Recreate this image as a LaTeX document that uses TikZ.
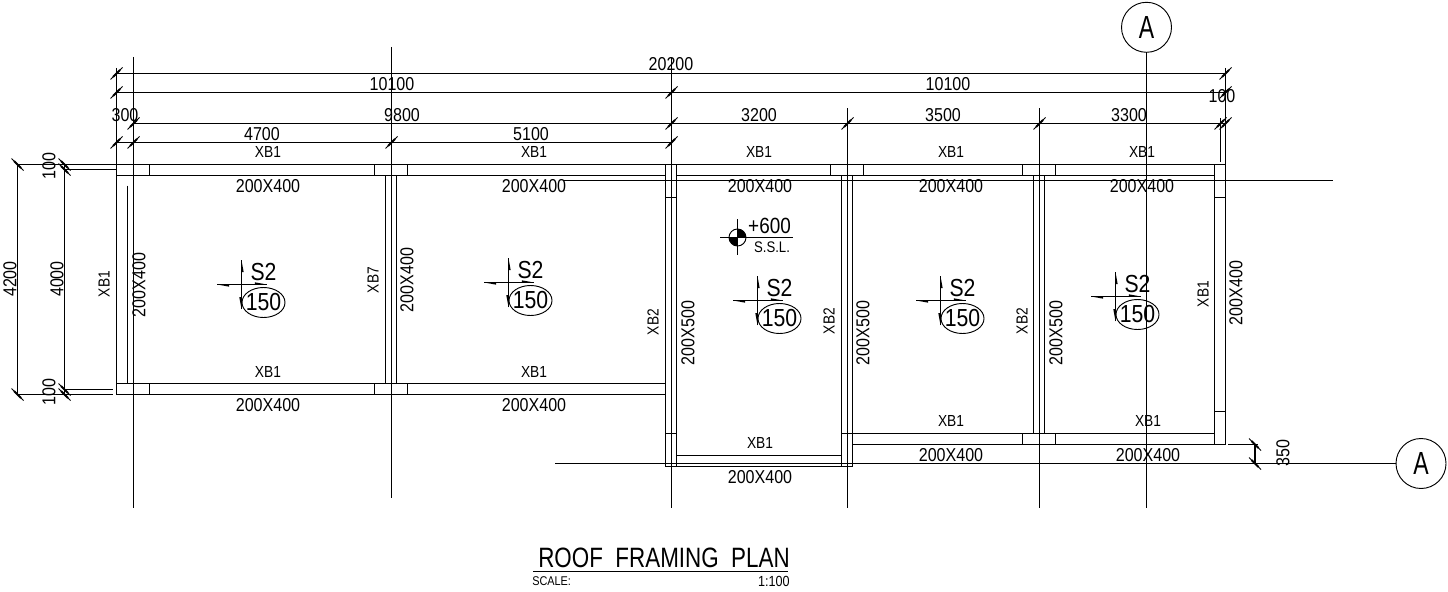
\documentclass[tikz,border=0pt]{standalone}
\usepackage{fontspec}
\setmainfont{Liberation Sans}
\newfontfamily\cadnarrow[FakeStretch=0.86]{Liberation Sans}
\newfontfamily\cadwide[FakeStretch=0.80]{Liberation Sans}
\newfontfamily\cadtall[FakeStretch=0.72]{Liberation Sans}
\tikzset{
  wall/.style={line width=0.8pt},
  grid/.style={line width=0.8pt},
  dimline/.style={line width=0.8pt},
  lbl/.style={inner sep=0pt,font=\cadnarrow\fontsize{14}{16}\selectfont},
  beamtag/.style={inner sep=0pt,font=\cadnarrow\fontsize{12}{14}\selectfont},
  vert/.style={rotate=90},
  slabtag/.style={inner sep=0pt,font=\cadnarrow\fontsize{18.5}{20}\selectfont},
  axistag/.style={circle,draw,line width=0.7pt,minimum size=37.5pt,inner sep=0pt,font=\cadtall\fontsize{24}{26}\selectfont},
}
\newcommand{\tickF}[2]{%
  \draw[line width=0.7pt] (#1-6,#2+6) -- (#1+6,#2-6);
  \draw[line width=1.5pt] (#1-3.5,#2+3.5) -- (#1+3.5,#2-3.5);}
\newcommand{\tickB}[2]{%
  \draw[line width=0.7pt] (#1-6,#2-6) -- (#1+6,#2+6);
  \draw[line width=1.5pt] (#1-3.5,#2-3.5) -- (#1+3.5,#2+3.5);}
\newcommand{\slabmark}[3]{%
  \draw[line width=0.7pt] (#2,#3-24.3) -- (#2,#3+24.7);
  \draw[line width=0.7pt] (#2-24.3,#3) -- (#2+25.4,#3);
  \fill (#2,#3-24.3) -- (#2+2.2,#3-12.3) -- (#2,#3-12.3) -- cycle;
  \fill (#2,#3+24.7) -- (#2-2.2,#3+12.7) -- (#2,#3+12.7) -- cycle;
  \fill (#2-24.3,#3) -- (#2-12.3,#3+2.2) -- (#2-12.3,#3) -- cycle;
  \fill (#2+25.4,#3) -- (#2+13.4,#3-2.2) -- (#2+13.4,#3) -- cycle;
  \node[slabtag] (s2#1) at (#2+22,#3-12) {S2};
  \draw[line width=0.7pt] (#2+22,#3+18) ellipse[x radius=21.5,y radius=15];
  \node[slabtag] (t#1) at (#2+22,#3+18) {150};}
\begin{document}
\begin{tikzpicture}[x=0.75pt,y=-0.75pt]
\useasboundingbox (0,0) rectangle (1448,592);
% grid axes
\draw[grid] (133.5,57) -- (133.5,508);
\draw[grid] (391.5,47) -- (391.5,498);
\draw[grid] (671.5,58) -- (671.5,508);
\draw[grid] (847.5,108) -- (847.5,508);
\draw[grid] (1039.5,108) -- (1039.5,508);
\draw[grid] (1146.5,52) -- (1146.5,508);
\draw[grid] (563,180.5) -- (1332.7,180.5);
\draw[grid] (555,463.5) -- (1396,463.5);
\node[axistag] (axisA) at (1146.5,27.3) {A};
\node[axistag] (axisB) at (1421,463.5) {A};
% dimension lines
\draw[dimline] (116.5,73.5) -- (1225.5,73.5);
\draw[dimline] (116.5,92.5) -- (1225.5,92.5);
\draw[dimline] (133.5,123.5) -- (1225.5,123.5);
\draw[dimline] (116.5,142.5) -- (671.5,142.5);
\draw[dimline] (116.5,68) -- (116.5,164.5);
\draw[dimline] (1225.5,68) -- (1225.5,162);
\draw[dimline] (1220.5,118) -- (1220.5,162);
\draw[dimline] (17.5,164.5) -- (17.5,394.5);
\draw[dimline] (64.5,164.5) -- (64.5,394.5);
\draw[dimline] (17.5,164.5) -- (116.5,164.5);
\draw[dimline] (64.5,169.5) -- (116.5,169.5);
\draw[dimline] (17.5,394.5) -- (113,394.5);
\draw[dimline] (64.5,389.5) -- (113,389.5);
\draw[dimline] (1228,444.5) -- (1258,444.5);
\draw[dimline] (1255,444.5) -- (1255,463.5);
\foreach \a/\b in {116.5/73.5,1225.5/73.5,116.5/92.5,671.5/92.5,1225.5/92.5,133.5/123.5,671.5/123.5,847.5/123.5,1039.5/123.5,1220.5/123.5,1225.5/123.5,116.5/142.5,133.5/142.5,391.5/142.5,671.5/142.5}{\tickF{\a}{\b}}
\foreach \a/\b in {17.5/164.5,64.5/164.5,64.5/169.5,17.5/394.5,64.5/394.5,64.5/389.5,1255/444.5,1255/463.5}{\tickB{\a}{\b}}
% beams and walls: top
\draw[wall] (116.5,164.5) -- (1225.5,164.5);
\draw[wall] (116.5,175.5) -- (665.5,175.5);
\draw[wall] (676.5,175.5) -- (1214.5,175.5);
\foreach \a in {149.5,374.5,407.5,830.5,863.5,1022.5,1055.5}{\draw[wall] (\a,164.5) -- (\a,175.5);}
% left beams
\draw[wall] (116.5,383.5) -- (665.5,383.5);
\draw[wall] (116.5,394.5) -- (665.5,394.5);
\foreach \a in {149.5,374.5,407.5}{\draw[wall] (\a,383.5) -- (\a,394.5);}
\draw[wall] (116.5,164.5) -- (116.5,394.5);
\draw[wall] (127.5,185.7) -- (127.5,383.5);
\draw[wall] (385.5,175.5) -- (385.5,383.5);
\draw[wall] (396.5,175.5) -- (396.5,383.5);
% column lines
\draw[wall] (665.5,164.5) -- (665.5,466.5);
\draw[wall] (676.5,164.5) -- (676.5,466.5);
\draw[wall] (665.5,197.5) -- (676.5,197.5);
\draw[wall] (665.5,433.5) -- (676.5,433.5);
\draw[wall] (841.5,175.5) -- (841.5,466.5);
\draw[wall] (852.5,175.5) -- (852.5,466.5);
\draw[wall] (841.5,433.5) -- (1214.5,433.5);
\draw[wall] (852.5,444.5) -- (1225.5,444.5);
\draw[wall] (676.5,455.5) -- (841.5,455.5);
\draw[wall] (665.5,466.5) -- (852.5,466.5);
\draw[wall] (1033.5,175.5) -- (1033.5,433.5);
\draw[wall] (1044.5,175.5) -- (1044.5,433.5);
\foreach \a in {1022.5,1055.5}{\draw[wall] (\a,433.5) -- (\a,444.5);}
\draw[wall] (1214.5,164.5) -- (1214.5,444.5);
\draw[wall] (1225.5,162) -- (1225.5,444.5);
\draw[wall] (1214.5,197.5) -- (1225.5,197.5);
\draw[wall] (1214.5,411.5) -- (1225.5,411.5);
% dimension labels
\node[lbl] (d20200) at (671,64) {20200};
\node[lbl] (d10100a) at (392,84) {10100};
\node[lbl] (d10100b) at (948,84) {10100};
\node[lbl] (d300) at (125,115) {300};
\node[lbl] (d9800) at (402,115) {9800};
\node[lbl] (d100c) at (1222,96) {100};
\node[lbl] (d3200) at (759,115) {3200};
\node[lbl] (d3500) at (943,115) {3500};
\node[lbl] (d3300) at (1129,115) {3300};
\node[lbl] (d4700) at (262,134) {4700};
\node[lbl] (d5100) at (531,134) {5100};
\node[lbl,vert] (d4200) at (10,279) {4200};
\node[lbl,vert] (d4000) at (57,279) {4000};
\node[lbl,vert] (d100a) at (49,166) {100};
\node[lbl,vert] (d100b) at (49,392) {100};
\node[lbl,vert] (d350) at (1283,453) {350};
% beam tags
\foreach \a/\b/\n in {268/152/a,534/152/b,759/152/c,951/152/d,1142/152/e,268/372/f,534/372/g,760/443/h,951/421/i,1148/421/j}{\node[beamtag] (xb\n) at (\a,\b) {XB1};}
\foreach \a/\b/\n in {268/186/a,534/186/b,760/186/c,951/186/d,1142/186/e,268/405/f,534/405/g,760/477/h,951/455/i,1148/455/j}{\node[lbl] (bs\n) at (\a,\b) {200X400};}
\node[beamtag,vert] (v1) at (104,284) {XB1};
\node[lbl,vert] (v2) at (139,285) {200X400};
\node[beamtag,vert] (v3) at (373,280) {XB7};
\node[lbl,vert] (v4) at (407,280) {200X400};
\node[beamtag,vert] (v5) at (653,322) {XB2};
\node[lbl,vert] (v6) at (688,333) {200X500};
\node[beamtag,vert] (v7) at (829,321) {XB2};
\node[lbl,vert] (v8) at (863,333) {200X500};
\node[beamtag,vert] (v9) at (1022,321) {XB2};
\node[lbl,vert] (v10) at (1056,333) {200X500};
\node[beamtag,vert] (v11) at (1203,294) {XB1};
\node[lbl,vert] (v12) at (1236,293) {200X400};
% slab marks
\slabmark{a}{241.5}{284.5}
\slabmark{b}{508.5}{282.5}
\slabmark{c}{757.5}{300.5}
\slabmark{d}{940.5}{300.5}
\slabmark{e}{1115.5}{296.5}
% level mark
\draw[line width=0.7pt] (737.5,237.5) circle[radius=8.5];
\fill (737.5,237.5) -- (729,237.5) arc[start angle=180,end angle=270,x radius=8.5,y radius=-8.5] -- cycle;
\fill (737.5,237.5) -- (746,237.5) arc[start angle=0,end angle=90,x radius=8.5,y radius=-8.5] -- cycle;
\draw[line width=0.8pt] (720,237.5) -- (793,237.5);
\draw[line width=0.8pt] (737.5,219) -- (737.5,255);
\node[inner sep=0pt,font=\cadnarrow\fontsize{16.5}{18}\selectfont] (lev) at (769.5,226) {+600};
\node[inner sep=0pt,font=\cadnarrow\fontsize{11.5}{13}\selectfont] (ssl) at (772,247) {S.S.L.};
% title
\node[inner sep=0pt,font=\cadwide\fontsize{21}{24}\selectfont] (title) at (664,558) {ROOF\ \ FRAMING\ \ PLAN};
\draw[line width=0.8pt] (533,571.5) -- (788,571.5);
\node[inner sep=0pt,anchor=west,font=\cadnarrow\fontsize{9.5}{11}\selectfont] (scale) at (532,581) {SCALE:};
\node[inner sep=0pt,anchor=east,font=\cadnarrow\fontsize{11}{12}\selectfont] (ratio) at (790,581) {1:100};
\end{tikzpicture}
\end{document}
